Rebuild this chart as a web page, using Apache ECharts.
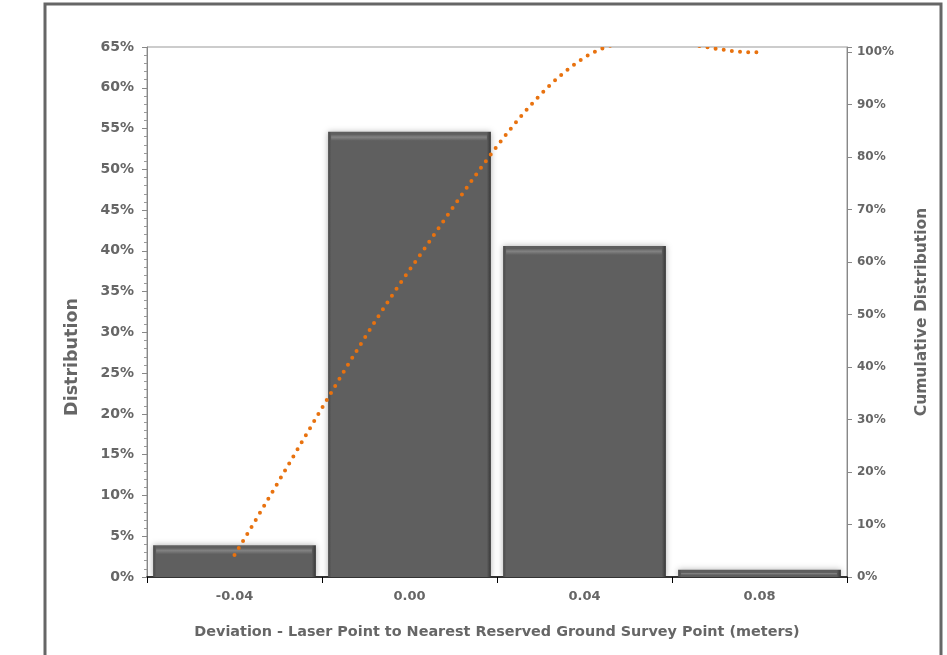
<!DOCTYPE html>
<html>
<head>
<meta charset="utf-8">
<script src="https://cdn.jsdelivr.net/npm/echarts@6/dist/echarts.min.js"></script>
<style>
html,body{margin:0;padding:0;background:#fff;}
#c{width:947px;height:655px;}
</style>
</head>
<body>
<div id="c"></div>
<script>
const categories = ['-0.04', '0.00', '0.04', '0.08'];
const distribution = [3.9, 54.6, 40.6, 0.9];
const cumulative = [4.2, 58.5, 99.0, 100.0];

const textColor = '#666666';
const fontFamily = '"DejaVu Sans", sans-serif';

function renderBar(params, api) {
  const cat = api.value(0);
  const val = api.value(1);
  const top = api.coord([cat, val]);
  const base = api.coord([cat, 0]);
  const band = api.size([1, 0])[0];
  const w = band * 0.93;
  const x = top[0] - w / 2;
  const y = top[1];
  const h = base[1] - top[1];
  const hlH = Math.max(0, Math.min(6, h - 5));
  return {
    type: 'group',
    children: [
      {
        type: 'rect',
        shape: {x: x, y: y, width: w, height: h},
        style: {
          fill: new echarts.graphic.LinearGradient(0, 0, 1, 0, [
            {offset: 0, color: '#484848'},
            {offset: 0.02, color: '#5f5f5f'},
            {offset: 0.975, color: '#5f5f5f'},
            {offset: 1, color: '#353535'}
          ]),
          shadowBlur: 6, shadowColor: 'rgba(0,0,0,0.3)'
        }
      },
      {
        type: 'rect',
        shape: {x: x + 3, y: y + 3, width: w - 7, height: hlH},
        style: {
          fill: new echarts.graphic.LinearGradient(0, 0, 0, 1, [
            {offset: 0, color: '#666666'},
            {offset: 0.4, color: '#828282'},
            {offset: 1, color: '#5f5f5f'}
          ])
        }
      }
    ]
  };
}

function renderCurve(params, api) {
  if (params.dataIndex !== 0) return null;
  const n = cumulative.length;
  const p = [];
  for (let i = 0; i < n; i++) {
    p.push(api.coord([api.value(0, i), api.value(1, i)]));
  }
  const ext = [];
  ext.push([2 * p[0][0] - p[1][0], 2 * p[0][1] - p[1][1]]);
  for (let i = 0; i < n; i++) ext.push(p[i]);
  ext.push([2 * p[n - 1][0] - p[n - 2][0], 2 * p[n - 1][1] - p[n - 2][1]]);
  const pts = [];
  const steps = 60;
  for (let i = 1; i < ext.length - 2; i++) {
    const a = ext[i - 1], b = ext[i], c = ext[i + 1], d = ext[i + 2];
    const c1 = [b[0] + (c[0] - a[0]) / 6, b[1] + (c[1] - a[1]) / 6];
    const c2 = [c[0] - (d[0] - b[0]) / 6, c[1] - (d[1] - b[1]) / 6];
    for (let s = (i === 1 ? 0 : 1); s <= steps; s++) {
      const t = s / steps, u = 1 - t;
      pts.push([
        u * u * u * b[0] + 3 * u * u * t * c1[0] + 3 * u * t * t * c2[0] + t * t * t * c[0],
        u * u * u * b[1] + 3 * u * u * t * c1[1] + 3 * u * t * t * c2[1] + t * t * t * c[1]
      ]);
    }
  }
  return {
    type: 'polyline',
    shape: {points: pts},
    style: {fill: null, stroke: '#E8720F', lineWidth: 4, lineDash: [0, 8.2], lineCap: 'round'}
  };
}

const chart = echarts.init(document.getElementById('c'), null, {renderer: 'canvas'});
chart.setOption({
  animation: false,
  backgroundColor: '#ffffff',
  grid: {left: 147, right: 100, top: 47, bottom: 78, show: true, borderColor: '#999999', borderWidth: 1, backgroundColor: 'transparent'},
  graphic: [
    {type: 'rect', shape: {x: 45, y: 4, width: 896, height: 700}, style: {fill: 'none', stroke: '#666666', lineWidth: 3}, z: 100, silent: true},
    {type: 'text', x: 72, y: 357, rotation: Math.PI / 2,
     style: {text: 'Distribution', fill: textColor, font: 'bold 17.5px ' + fontFamily, align: 'center', verticalAlign: 'middle'}}
  ],
  xAxis: {
    type: 'category',
    data: categories,
    name: 'Deviation - Laser Point to Nearest Reserved Ground Survey Point (meters)',
    nameLocation: 'middle',
    nameGap: 48,
    nameTextStyle: {color: textColor, fontWeight: 'bold', fontSize: 14.4, fontFamily: fontFamily},
    axisLine: {lineStyle: {color: '#000000', width: 1.5}},
    axisTick: {show: true, alignWithLabel: false, length: 6, lineStyle: {color: '#000000'}},
    axisLabel: {color: textColor, fontWeight: 'bold', fontSize: 13, fontFamily: fontFamily, margin: 13},
    splitLine: {show: false}
  },
  yAxis: [
    {
      type: 'value', min: 0, max: 65, interval: 5,
      axisLine: {show: true, lineStyle: {color: '#888888'}},
      axisTick: {show: true, length: 5, lineStyle: {color: '#888888'}},
      minorTick: {show: true, splitNumber: 5, length: 3, lineStyle: {color: '#999999'}},
      axisLabel: {formatter: '{value}%', color: textColor, fontWeight: 'bold', fontSize: 14, fontFamily: fontFamily, margin: 13},
      splitLine: {show: false}
    },
    {
      type: 'value', min: 0, max: 101, interval: 10, position: 'right',
      name: 'Cumulative Distribution',
      nameLocation: 'middle',
      nameGap: 67,
      nameRotate: 90,
      nameTextStyle: {color: textColor, fontWeight: 'bold', fontSize: 15.5, fontFamily: fontFamily},
      axisLine: {show: true, lineStyle: {color: '#888888'}},
      axisTick: {show: true, length: 5, lineStyle: {color: '#888888'}},
      axisLabel: {formatter: function (v) { return v % 10 === 0 ? v + '%' : ''; }, color: textColor, fontWeight: 'bold', fontSize: 12, fontFamily: fontFamily, margin: 10},
      splitLine: {show: false}
    }
  ],
  series: [
    {
      type: 'custom',
      name: 'Distribution',
      renderItem: renderBar,
      data: distribution.map(function (v, i) { return [i, v]; }),
      encode: {x: 0, y: 1},
      yAxisIndex: 0,
      clip: true,
      z: 2
    },
    {
      type: 'custom',
      name: 'Cumulative Distribution',
      renderItem: renderCurve,
      data: cumulative.map(function (v, i) { return [i, v]; }),
      encode: {x: 0, y: 1},
      yAxisIndex: 1,
      clip: true,
      z: 5
    }
  ]
});
</script>
</body>
</html>
